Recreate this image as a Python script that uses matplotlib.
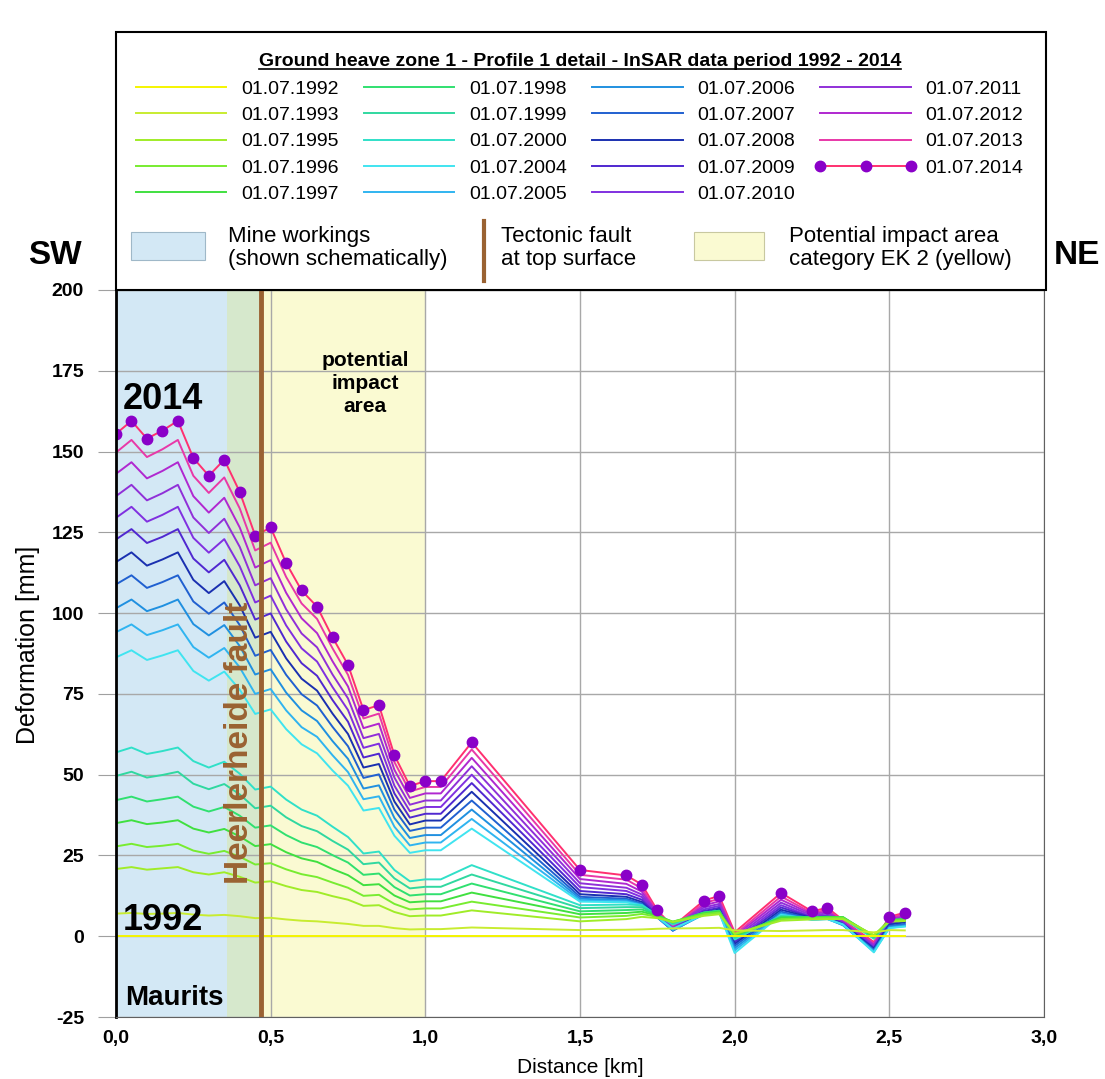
import numpy as np
import matplotlib.pyplot as plt
from matplotlib.patches import Rectangle
from matplotlib.lines import Line2D

plt.rcParams['font.family'] = ['Liberation Sans', 'DejaVu Sans']
plt.rcParams['axes.unicode_minus'] = False

# distance along profile [km]
distance = [0.00, 0.05, 0.10, 0.15, 0.20, 0.25, 0.30, 0.35, 0.40, 0.45, 0.50, 0.55,
            0.60, 0.65, 0.70, 0.75, 0.80, 0.85, 0.90, 0.95, 1.00, 1.05, 1.15, 1.50,
            1.65, 1.70, 1.75, 1.80, 1.90, 1.95, 2.00, 2.15, 2.25, 2.30, 2.35, 2.45,
            2.50, 2.55]

# deformation [mm] per epoch
d1992 = [0, 0, 0, 0, 0, 0, 0, 0, 0, 0, 0, 0, 0, 0, 0, 0, 0, 0, 0, 0, 0, 0, 0, 0,
         0, 0, 0, 0, 0, 0, 0, 0, 0, 0, 0, 0, 0, 0]
d1993 = [7, 7.2, 6.9, 7, 7.2, 6.7, 6.4, 6.6, 6.2, 5.6, 5.7, 5.2, 4.8, 4.6, 4.2, 3.8, 3.2, 3.2,
         2.5, 2.1, 2.2, 2.2, 2.7, 1.9, 2, 2.1, 2.3, 2.4, 2.5, 2.6, 1.8, 1.6, 1.8, 1.9, 1.9, 1.2, 1.9, 1.8]
d1995 = [20.8, 21.4, 20.6, 21, 21.4, 19.8, 19.1, 19.8, 18.4, 16.6, 17, 15.5, 14.3, 13.7, 12.4, 11.3,
         9.4, 9.6, 7.5, 6.2, 6.4, 6.4, 8, 4.6, 5.3, 6, 5.6, 4.4, 6.3, 6.8, 0.8, 4.8, 5.2, 5.3, 5.3, 0.4, 4.5, 4.7]
d1996 = [27.8, 28.6, 27.6, 28, 28.6, 26.5, 25.5, 26.4, 24.6, 22.2, 22.6, 20.7, 19.2, 18.3, 16.6, 15,
         12.5, 12.8, 10, 8.3, 8.6, 8.6, 10.7, 5.8, 6.3, 6.9, 6, 4.5, 6.8, 7.3, 0.6, 5.3, 5.6, 5.7, 5.7, 0.2, 4.8, 5]
d1997 = [35, 35.9, 34.7, 35.2, 35.9, 33.3, 32.1, 33.2, 30.9, 27.9, 28.5, 26, 24.1, 23, 20.8, 18.9,
         15.8, 16.1, 12.6, 10.5, 10.8, 10.8, 13.5, 6.8, 7.2, 7.6, 6.3, 4.5, 7.1, 7.6, 0.3, 5.7, 5.8, 5.9, 5.9, 0, 5, 5.2]
d1998 = [42.1, 43.2, 41.7, 42.4, 43.2, 40.1, 38.6, 40, 37.3, 33.6, 34.3, 31.3, 29, 27.6, 25.1, 22.8,
         19, 19.4, 15.2, 12.6, 13, 13, 16.3, 7.7, 8.1, 8.3, 6.5, 4.3, 7.3, 7.8, 0, 5.9, 5.9, 6, 5.9, -0.2, 5, 5.3]
d1999 = [49.6, 50.9, 49.1, 49.9, 50.9, 47.2, 45.5, 47.1, 43.9, 39.6, 40.4, 36.8, 34.1, 32.5, 29.5, 26.8,
         22.3, 22.8, 17.9, 14.8, 15.3, 15.3, 19.1, 8.7, 9, 9, 6.6, 4, 7.3, 7.9, -0.5, 6.1, 5.8, 6, 5.8, -0.5, 4.8, 5.3]
d2000 = [56.9, 58.4, 56.4, 57.3, 58.4, 54.2, 52.2, 54, 50.3, 45.4, 46.3, 42.3, 39.2, 37.3, 33.9, 30.7,
         25.6, 26.2, 20.5, 17, 17.6, 17.6, 22, 9.6, 9.8, 9.6, 6.6, 3.6, 7.2, 7.8, -1, 6.3, 5.6, 5.8, 5.5, -0.8, 4.6, 5.2]
d2004 = [86.3, 88.5, 85.5, 86.9, 88.5, 82.1, 79.1, 81.9, 76.3, 68.8, 70.2, 64.1, 59.4, 56.6, 51.3, 46.6,
         38.9, 39.7, 31.1, 25.8, 26.6, 26.6, 33.3, 10.7, 10.5, 9.5, 6, 2.3, 6.7, 7.3, -5.2, 6.6, 5.1, 5.3, 3.7, -5, 2.5, 3]
d2005 = [94.1, 96.5, 93.2, 94.7, 96.5, 89.5, 86.2, 89.2, 83.2, 75, 76.5, 69.9, 64.7, 61.7, 56, 50.8,
         42.4, 43.3, 33.9, 28.1, 29, 29, 36.3, 11.1, 10.8, 9.6, 5.9, 2, 6.7, 7.4, -4.4, 6.8, 5.1, 5.3, 3.5, -4.8, 2.6, 3.1]
d2006 = [101.5, 104.2, 100.6, 102.2, 104.2, 96.6, 93.1, 96.3, 89.8, 81, 82.6, 75.4, 69.9, 66.6, 60.4, 54.9,
         45.7, 46.7, 36.6, 30.4, 31.3, 31.3, 39.2, 11.6, 11.2, 9.8, 5.8, 1.8, 6.8, 7.6, -3.7, 7.1, 5.2, 5.4, 3.4, -4.5, 2.9, 3.4]
d2007 = [108.9, 111.7, 107.8, 109.6, 111.7, 103.6, 99.8, 103.3, 96.3, 86.8, 88.6, 80.9, 74.9, 71.4, 64.8, 58.8,
         49, 50.1, 39.2, 32.6, 33.6, 33.6, 42, 12.2, 11.6, 10.1, 5.8, 1.7, 7, 7.9, -3, 7.6, 5.4, 5.6, 3.5, -4.2, 3.2, 3.8]
d2008 = [115.8, 118.8, 114.7, 116.6, 118.8, 110.3, 106.2, 109.9, 102.4, 92.4, 94.2, 86, 79.7, 76, 68.9, 62.6,
         52.2, 53.3, 41.7, 34.6, 35.8, 35.8, 44.7, 13, 12.2, 10.6, 6, 1.8, 7.3, 8.3, -2.4, 8.2, 5.6, 5.9, 3.7, -3.9, 3.6, 4.3]
d2009 = [122.8, 126, 121.7, 123.6, 126, 116.9, 112.6, 116.5, 108.6, 98, 99.9, 91.2, 84.5, 80.6, 73.1, 66.4,
         55.3, 56.5, 44.2, 36.7, 37.9, 37.9, 47.4, 14, 13, 11.3, 6.3, 2, 7.8, 8.8, -1.8, 8.9, 5.8, 6.2, 3.9, -3.6, 4, 4.8]
d2010 = [129.5, 132.9, 128.3, 130.4, 132.9, 123.3, 118.7, 122.9, 114.5, 103.3, 105.4, 96.2, 89.1, 85, 77.1, 70,
         58.3, 59.6, 46.6, 38.7, 40, 40, 50, 15.2, 14, 12.1, 6.6, 2.2, 8.3, 9.4, -1.2, 9.6, 6, 6.6, 4.1, -3.3, 4.4, 5.3]
d2011 = [136.2, 139.7, 134.9, 137.1, 139.7, 129.6, 124.8, 129.2, 120.5, 108.6, 110.8, 101.2, 93.7, 89.4, 81, 73.6,
         61.3, 62.6, 49.1, 40.7, 42, 42, 52.6, 16.4, 15, 12.9, 6.9, 2.4, 8.9, 10, -0.6, 10.4, 6.4, 7.1, 4.3, -3, 4.8, 5.8]
d2012 = [143.1, 146.7, 141.7, 144, 146.7, 136.2, 131.1, 135.7, 126.5, 114.1, 116.4, 106.3, 98.4, 93.8, 85.1, 77.3,
         64.4, 65.8, 51.5, 42.8, 44.2, 44.2, 55.2, 17.7, 16.2, 13.8, 7.2, 2.6, 9.5, 10.8, 0, 11.3, 6.8, 7.6, 4.5, -2.6, 5.2, 6.3]
d2013 = [149.7, 153.6, 148.3, 150.7, 153.6, 142.5, 137.2, 142, 132.4, 119.4, 121.8, 111.2, 103, 98.2, 89.1, 80.9,
         67.4, 68.9, 53.9, 44.8, 46.2, 46.2, 57.8, 19, 17.5, 14.8, 7.6, 2.8, 10.2, 11.6, 0.5, 12.3, 7.2, 8.2, 4.7, -2.2, 5.6, 6.8]
d2014 = [155.5, 159.5, 154, 156.5, 159.5, 148, 142.5, 147.5, 137.5, 124, 126.5, 115.5, 107, 102, 92.5, 84,
         70, 71.5, 56, 46.5, 48, 48, 60, 20.5, 18.8, 16, 8, 3, 11, 12.5, 1.2, 13.4, 7.7, 8.8, 5, -1.8, 6, 7.3]

labels = ['01.07.1992', '01.07.1993', '01.07.1995', '01.07.1996', '01.07.1997',
          '01.07.1998', '01.07.1999', '01.07.2000', '01.07.2004', '01.07.2005',
          '01.07.2006', '01.07.2007', '01.07.2008', '01.07.2009', '01.07.2010',
          '01.07.2011', '01.07.2012', '01.07.2013', '01.07.2014']
series = [d1992, d1993, d1995, d1996, d1997, d1998, d1999, d2000, d2004, d2005,
          d2006, d2007, d2008, d2009, d2010, d2011, d2012, d2013, d2014]
colors = ['#f5f500', '#c8ec30', '#a0ec28', '#78ec30', '#40e040', '#30e070', '#30d8a0',
          '#30e0c8', '#40e4f0', '#30b4f0', '#2090e0', '#2060d0', '#1a30b0', '#5028d0',
          '#8030e0', '#9030d8', '#b028d0', '#e838a8', '#ff3070']
marker_col = '#8a00c8'
# 2014 points drawn with a dot
dot_idx = [0, 1, 2, 3, 4, 5, 6, 7, 8, 9, 10, 11, 12, 13, 14, 15, 16, 17, 18, 19, 20, 21,
           22, 23, 24, 25, 26, 28, 29, 31, 32, 33, 36, 37]

xticks = [0, 0.5, 1.0, 1.5, 2.0, 2.5, 3.0]
xtick_labels = ['0,0', '0,5', '1,0', '1,5', '2,0', '2,5', '3,0']
yticks = [-25, 0, 25, 50, 75, 100, 125, 150, 175, 200]

mine_end = 0.36      # mine workings (schematic)
impact_start = 0.36  # potential impact area EK 2
impact_end = 1.0
fault_x = 0.47
brown = '#9a6232'
blue_fill = '#d3e8f5'
green_fill = '#d6e8cc'
yellow_fill = '#fafad2'

W, H = 1105, 1079
fig = plt.figure(figsize=(W / 100, H / 100), dpi=100)
ax = fig.add_axes([116 / W, 62 / H, 928 / W, 727 / H])

ax.axvspan(0, mine_end, color=blue_fill, lw=0, zorder=0)
ax.axvspan(impact_start, fault_x, color=green_fill, lw=0, zorder=0)
ax.axvspan(fault_x, impact_end, color=yellow_fill, lw=0, zorder=0)
ax.grid(color='#a8a8a8', lw=1)
ax.set_axisbelow(True)

handles = []
for i in range(len(series) - 1, -1, -1):
    ln, = ax.plot(distance, series[i], color=colors[i], lw=1.4, zorder=2 + 0.01 * (len(series) - i))
    handles.append(ln)
handles = handles[::-1]
ax.plot([distance[k] for k in dot_idx], [d2014[k] for k in dot_idx], 'o', ms=7.5,
        color=marker_col, zorder=2.5)
handles[-1] = Line2D([], [], color=colors[-1], lw=1.4, marker='o', ms=7.5,
                     mfc=marker_col, mec=marker_col)

ax.axvline(fault_x, color=brown, lw=3.5, zorder=3)
ax.text(0.40, 60, 'Heerlerheide fault', rotation=90, ha='center', va='center',
        fontsize=24, fontweight='bold', color=brown, zorder=4)
ax.text(0.022, 166, '2014', fontsize=26, fontweight='bold', va='center', zorder=4)
ax.text(0.022, 5, '1992', fontsize=26, fontweight='bold', va='center', zorder=4)
ax.text(0.029, -19, 'Maurits', fontsize=20, fontweight='bold', va='center', zorder=4)
ax.text(0.805, 171, 'potential\nimpact\narea', fontsize=15, fontweight='bold',
        ha='center', va='center', linespacing=1.25, zorder=4)

ax.set_xlim(0, 3)
ax.set_ylim(-25, 200)
ax.set_xticks(xticks)
ax.set_xticklabels(xtick_labels)
ax.set_yticks(yticks)
ax.tick_params(axis='y', length=13, color='#a0a0a0', pad=10, labelsize=14)
ax.tick_params(axis='x', length=0, pad=9, labelsize=14)
for lbl in ax.get_xticklabels() + ax.get_yticklabels():
    lbl.set_fontweight('bold')
ax.set_xlabel('Distance [km]', fontsize=15)
ax.xaxis.set_label_coords(0.5, -0.057)
for s in ['top', 'right', 'bottom']:
    ax.spines[s].set_color('#606060')
ax.spines['left'].set_linewidth(2)
ax.spines['left'].set_color('black')

fig.text(28 / W, 1 - 645 / H, 'Deformation [mm]', rotation=90, ha='center', va='center',
         fontsize=18)

# overlay in pixel coordinates for the legend block
ov = fig.add_axes([0, 0, 1, 1], zorder=5)
ov.set_xlim(0, W)
ov.set_ylim(H, 0)
ov.axis('off')
ov.patch.set_alpha(0)

ov.add_patch(Rectangle((116, 32), 930, 258, fill=False, ec='black', lw=1.5))
title = ov.text(580, 61, 'Ground heave zone 1 - Profile 1 detail - InSAR data period 1992 - 2014',
                ha='center', va='center', fontsize=14, fontweight='bold')

ov.legend(handles, labels, ncol=4, loc='upper left', bbox_to_anchor=(130, 80),
          bbox_transform=ov.transData, frameon=False, fontsize=14, handlelength=5.25,
          handletextpad=0.46, columnspacing=1.0, labelspacing=0.45, numpoints=3,
          borderpad=0, borderaxespad=0)

ov.add_patch(Rectangle((131, 232), 74, 28, fc=blue_fill, ec='#9fb8c8', lw=0.8))
ov.text(228, 248, 'Mine workings\n(shown schematically)', va='center', fontsize=16, linespacing=1.1)
ov.plot([484, 484], [221, 281], color=brown, lw=3)
ov.text(501, 248, 'Tectonic fault\nat top surface', va='center', fontsize=16, linespacing=1.1)
ov.add_patch(Rectangle((694, 232), 70, 28, fc=yellow_fill, ec='#c8c8a0', lw=0.8))
ov.text(789, 248, 'Potential impact area\ncategory EK 2 (yellow)', va='center', fontsize=16,
        linespacing=1.1)

ov.text(55, 256, 'SW', ha='center', va='center', fontsize=24, fontweight='bold')
ov.text(1077, 256, 'NE', ha='center', va='center', fontsize=24, fontweight='bold')

# underline the title
fig.canvas.draw()
bb = title.get_window_extent()
(x0, y0), (x1, y1) = ov.transData.inverted().transform([[bb.x0, bb.y0], [bb.x1, bb.y1]])
ov.plot([x0, x1], [y0 - 1, y0 - 1], color='black', lw=1.2)

fig.savefig('out.png', dpi=100)
